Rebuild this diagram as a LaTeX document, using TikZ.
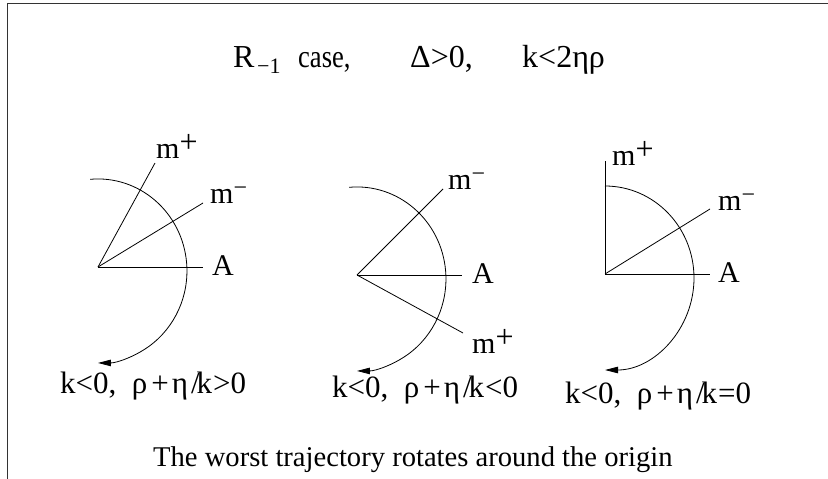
\documentclass[tikz,border=0pt]{standalone}
\usepackage{fontspec}
\setmainfont{Liberation Serif}
\usetikzlibrary{arrows.meta}
\tikzset{
  ln/.style={line width=0.8pt},
  traj/.style={line width=0.8pt,-{Triangle[length=13pt,width=6.5pt]}},
  lbl/.style={anchor=base west,inner sep=0pt,font=\fontsize{30}{36}\selectfont},
  cnd/.style={anchor=base west,inner sep=0pt,font=\fontsize{31}{36}\selectfont},
  ttl/.style={anchor=base west,inner sep=0pt,font=\fontsize{32}{38}\selectfont},
  captxt/.style={anchor=base west,inner sep=0pt,font=\fontsize{28.6}{34}\selectfont},
  frm/.style={line width=1.5pt,draw=black!80}
}
\newcommand{\supplus}{\raisebox{6pt}{\fontsize{32}{36}\selectfont +}}
\newcommand{\supminus}{\raisebox{8pt}{\fontsize{24}{28}\selectfont −}}
\newcommand{\cond}[1]{k<0,\ \ ρ\kern4pt+\kern3pt η\kern3pt/\kern-3pt k\kern1pt#1}
\begin{document}
\begin{tikzpicture}[x=1pt,y=-1pt]
\useasboundingbox (0,0) rectangle (828,479);
\coordinate (fr1) at (828,3.5);
\coordinate (fr2) at (7.5,3.5);
\coordinate (fr3) at (7.5,479);
\draw[frm] (fr1) -- (fr2) -- (fr3);
% title
\node[ttl] (t1) at (233,67) {R};
\node[anchor=base west,inner sep=0pt,font=\fontsize{22}{26}\selectfont] (t2) at (257,73) {−1};
\node[ttl] (t3) at (298,67) {\scalebox{0.83}[1]{case,}};
\node[ttl] (t4) at (410,67) {Δ>0,};
\node[ttl] (t5) at (522,67) {k<2ηρ};
% diagram 1
\coordinate (O1) at (98,267);
\coordinate (A1) at (203,267);
\coordinate (P1) at (155,163);
\coordinate (M1) at (203,203);
\coordinate (S1) at (90.2,179.3);
\draw[ln] (O1) -- (A1);
\draw[ln] (O1) -- (P1);
\draw[ln] (O1) -- (M1);
\draw[traj] (S1) arc[start angle=-95,end angle=90,x radius=89,y radius=92];
\node[lbl] (lA1) at (212,275) {A};
\node[lbl] (lP1) at (156,158) {m\supplus};
\node[lbl] (lM1) at (210,203) {m\supminus};
\node[cnd] (c1) at (60,393) {\cond{>0}};
% diagram 2
\coordinate (O2) at (357,275);
\coordinate (A2) at (462,275);
\coordinate (P2) at (463,333);
\coordinate (M2) at (443,189);
\coordinate (S2) at (349.2,187.3);
\draw[ln] (O2) -- (A2);
\draw[ln] (O2) -- (P2);
\draw[ln] (O2) -- (M2);
\draw[traj] (S2) arc[start angle=-95,end angle=90,x radius=89,y radius=92];
\node[lbl] (lA2) at (472,283) {A};
\node[lbl] (lP2) at (472,353) {m\supplus};
\node[lbl] (lM2) at (448,189) {m\supminus};
\node[cnd] (c2) at (332,397) {\cond{<0}};
% diagram 3
\coordinate (O3) at (605,274);
\coordinate (A3) at (710,274);
\coordinate (P3) at (605,161);
\coordinate (M3) at (710,209);
\coordinate (S3) at (605,186);
\draw[ln] (O3) -- (A3);
\draw[ln] (O3) -- (P3);
\draw[ln] (O3) -- (M3);
\draw[traj] (S3) arc[start angle=-90,end angle=90,x radius=89,y radius=92];
\node[lbl] (lA3) at (718,282) {A};
\node[lbl] (lP3) at (612,165) {m\supplus};
\node[lbl] (lM3) at (718,210) {m\supminus};
\node[cnd] (c3) at (565,403) {\cond{=0}};
% caption
\node[captxt] (bt) at (153,466) {The worst trajectory rotates around the origin};
\end{tikzpicture}
\end{document}
